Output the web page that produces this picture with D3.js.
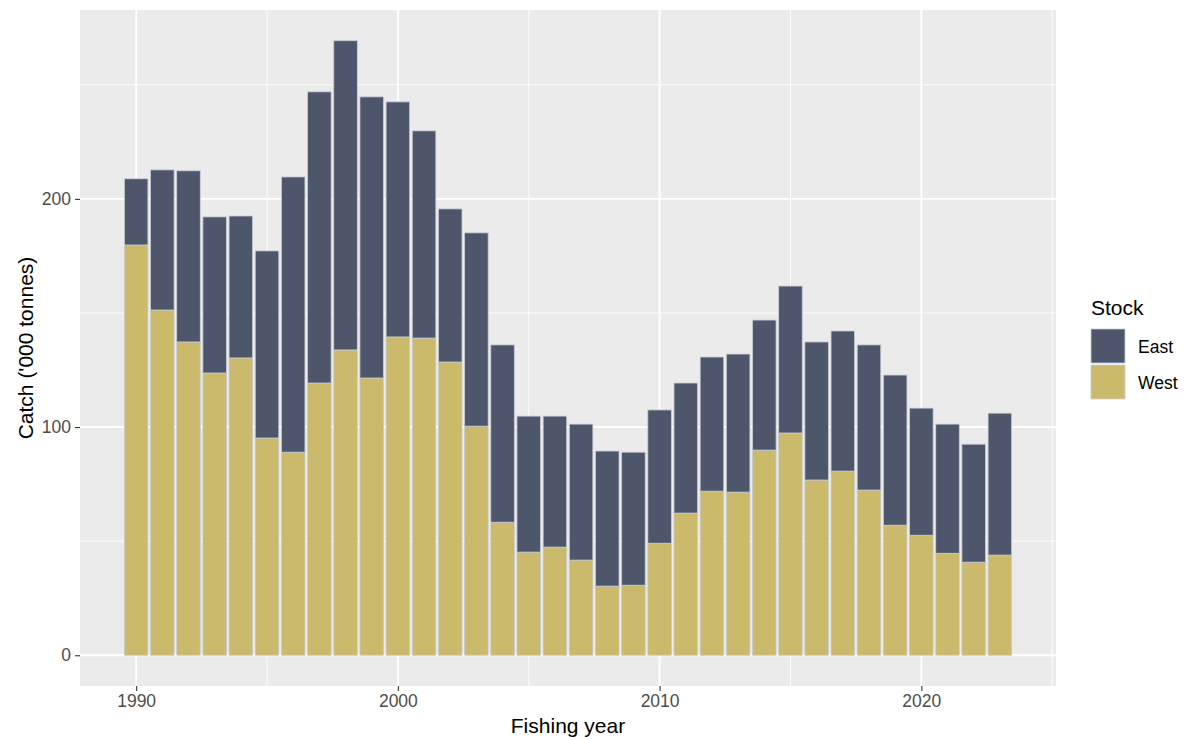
<!DOCTYPE html>
<html>
<head>
<meta charset="utf-8">
<script src="https://cdn.jsdelivr.net/npm/d3@7"></script>
<style>
  body { margin: 0; background: #fff; }
  text { font-family: "Liberation Sans", Arial, sans-serif; }
</style>
</head>
<body>
<div id="chart"></div>
<script>
// catch by fishing year, '000 tonnes
const years = [1990, 1991, 1992, 1993, 1994, 1995, 1996, 1997, 1998, 1999,
  2000, 2001, 2002, 2003, 2004, 2005, 2006, 2007, 2008, 2009,
  2010, 2011, 2012, 2013, 2014, 2015, 2016, 2017, 2018, 2019,
  2020, 2021, 2022, 2023];
const west = [179.8, 151.3, 137.3, 123.7, 130.3, 95.2, 89.0, 119.3, 133.8, 121.5,
  139.5, 139.0, 128.5, 100.4, 58.3, 45.2, 47.4, 41.7, 30.3, 30.7,
  49.1, 62.3, 71.9, 71.5, 89.9, 97.4, 76.8, 80.7, 72.4, 57.0,
  52.6, 44.7, 40.8, 43.9];
const east = [29.0, 61.4, 75.0, 68.4, 62.2, 82.0, 120.6, 127.6, 135.5, 123.2,
  103.0, 90.8, 67.1, 84.7, 77.7, 59.6, 57.4, 59.6, 59.2, 58.3,
  58.4, 57.0, 58.8, 60.5, 57.0, 64.4, 60.5, 61.4, 63.6, 65.8,
  55.7, 56.6, 51.7, 62.2];
const stocks = ["West", "East"];
const stockColors = { East: "#4E566B", West: "#CBBA6B" };
const yTicks = [0, 100, 200];
const xTicks = [1990, 2000, 2010, 2020];

const W = 1188, H = 740;
const margin = { top: 10, left: 80, right: 132, bottom: 54 };
const pw = W - margin.left - margin.right,
      ph = H - margin.top - margin.bottom;

const rows = years.map((y, i) => ({ year: y, West: west[i], East: east[i] }));
const series = d3.stack().keys(stocks)(rows);

const maxY = d3.max(rows, d => d.West + d.East);
const barW = 0.9;
const xMin = years[0] - barW / 2, xMax = years[years.length - 1] + barW / 2;
const xPad = (xMax - xMin) * 0.05, yPad = maxY * 0.05;

const x = d3.scaleLinear().domain([xMin - xPad, xMax + xPad]).range([0, pw]);
const y = d3.scaleLinear().domain([-yPad, maxY + yPad]).range([ph, 0]);

const svg = d3.select("#chart").append("svg")
  .attr("width", W).attr("height", H);

const g = svg.append("g")
  .attr("transform", "translate(" + margin.left + "," + margin.top + ")");

g.append("rect").attr("width", pw).attr("height", ph).attr("fill", "#EBEBEB");

// minor grid
const xMinor = [1985, 1995, 2005, 2015, 2025].filter(v => x(v) >= 0 && x(v) <= pw);
const yMinor = [50, 150, 250];
g.selectAll(".xminor").data(xMinor).enter().append("line")
  .attr("x1", d => x(d)).attr("x2", d => x(d)).attr("y1", 0).attr("y2", ph)
  .attr("stroke", "#fff").attr("stroke-width", 0.9);
g.selectAll(".yminor").data(yMinor).enter().append("line")
  .attr("y1", d => y(d)).attr("y2", d => y(d)).attr("x1", 0).attr("x2", pw)
  .attr("stroke", "#fff").attr("stroke-width", 0.9);
// major grid
g.selectAll(".xmajor").data(xTicks).enter().append("line")
  .attr("x1", d => x(d)).attr("x2", d => x(d)).attr("y1", 0).attr("y2", ph)
  .attr("stroke", "#fff").attr("stroke-width", 1.9);
g.selectAll(".ymajor").data(yTicks).enter().append("line")
  .attr("y1", d => y(d)).attr("y2", d => y(d)).attr("x1", 0).attr("x2", pw)
  .attr("stroke", "#fff").attr("stroke-width", 1.9);

// bars
const bw = x(barW) - x(0);
g.selectAll(".layer").data(series).enter().append("g")
  .attr("fill", d => stockColors[d.key])
  .selectAll("rect").data(d => d).enter().append("rect")
  .attr("x", d => x(d.data.year) - bw / 2)
  .attr("width", bw)
  .attr("y", d => y(d[1]))
  .attr("height", d => y(d[0]) - y(d[1]))
  .attr("stroke", "#c9ccd2").attr("stroke-width", 0.8);

// axes
const yAxis = g.append("g").call(d3.axisLeft(y).tickValues(yTicks).tickSize(5).tickPadding(4));
const xAxis = g.append("g").attr("transform", "translate(0," + ph + ")")
  .call(d3.axisBottom(x).tickValues(xTicks).tickFormat(d3.format("d")).tickSize(5).tickPadding(4));
[yAxis, xAxis].forEach(a => {
  a.select(".domain").remove();
  a.selectAll(".tick line").attr("stroke", "#333").attr("stroke-width", 1.1);
  a.selectAll(".tick text").attr("fill", "#4D4D4D").style("font-size", "17.5px");
});

svg.append("text")
  .attr("x", margin.left + pw / 2).attr("y", 733)
  .attr("text-anchor", "middle").style("font-size", "21px").attr("fill", "#000")
  .text("Fishing year");
svg.append("text")
  .attr("transform", "translate(33," + (margin.top + ph / 2) + ") rotate(-90)")
  .attr("text-anchor", "middle").style("font-size", "21px").attr("fill", "#000")
  .text("Catch ('000 tonnes)");

// legend
const leg = svg.append("g").attr("transform", "translate(1091,296)");
leg.append("text").attr("x", 0).attr("y", 19).style("font-size", "21px").text("Stock");
const legKeys = ["East", "West"];
legKeys.forEach((k, i) => {
  leg.append("rect").attr("x", 0).attr("y", 33 + i * 36).attr("width", 34).attr("height", 34)
    .attr("fill", stockColors[k]).attr("stroke", "#c9ccd2").attr("stroke-width", 0.8);
  leg.append("text").attr("x", 47).attr("y", 57 + i * 36).style("font-size", "17.5px").text(k);
});
</script>
</body>
</html>
